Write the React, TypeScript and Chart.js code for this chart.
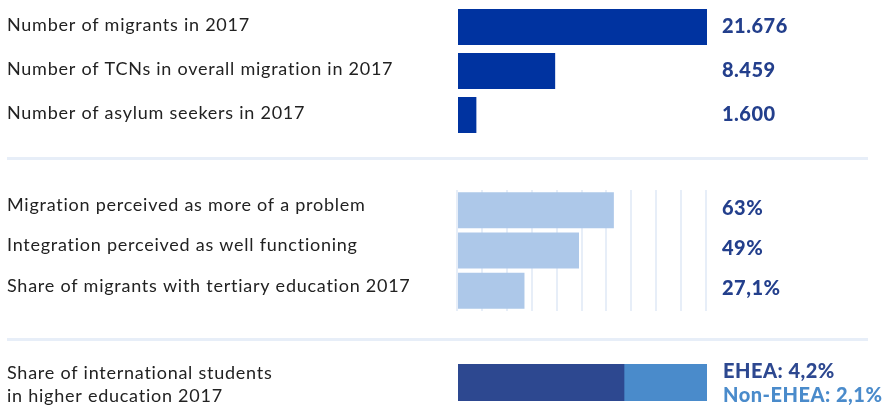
import React, { useEffect, useRef } from "react";
import { Chart, registerables } from "chart.js";

Chart.register(...registerables);

// ---------- data ----------
const migrationLabels = [
  "Number of migrants in 2017",
  "Number of TCNs in overall migration in 2017",
  "Number of asylum seekers in 2017",
];
const migrationValues = [21676, 8459, 1600];

const perceptionLabels = [
  "Migration perceived as more of a problem",
  "Integration perceived as well functioning",
  "Share of migrants with tertiary education 2017",
];
const perceptionValues = [63, 49, 27.1];
const perceptionMax = 100;
const perceptionStep = 10;

const studentLabel = ["Share of international students", "in higher education 2017"];
const studentSeries = ["EHEA", "Non-EHEA"];
const studentValues = [4.2, 2.1];

// ---------- styles ----------
const FONT = "Lato";
const LABEL_COLOR = "#222222";
const VALUE_COLOR = "#233f8c";
const SEP_COLOR = "#e7eef8";
const LABEL_SPACING = "0.75px";
const VALUE_SPACING = "0.5px";

const fmtInt = (v: number) => v.toLocaleString("de-DE");
const fmtPct = (v: number) => v.toLocaleString("de-DE", { maximumFractionDigits: 1 }) + "%";

const spacingPlugin = {
  id: "spacing",
  beforeDraw(chart: any) {
    (chart.ctx as any).letterSpacing = LABEL_SPACING;
  },
};

const valueLabelPlugin = {
  id: "valueLabels",
  afterDatasetsDraw(chart: any, _args: any, opts: any) {
    if (!opts || !opts.texts) return;
    const ctx = chart.ctx;
    ctx.save();
    (ctx as any).letterSpacing = VALUE_SPACING;
    ctx.font = `900 ${opts.size}px ${FONT}`;
    ctx.textBaseline = "middle";
    ctx.textAlign = "left";
    opts.texts.forEach((t: any) => {
      const el = chart.getDatasetMeta(t.dataset).data[t.index];
      if (!el) return;
      ctx.fillStyle = t.color;
      ctx.fillText(t.text, chart.chartArea.right + opts.gap, el.y + (t.dy || 0));
    });
    ctx.restore();
  },
};

function ChartCanvas({ config, top, height }: { config: any; top: number; height: number }) {
  const ref = useRef<HTMLCanvasElement | null>(null);
  useEffect(() => {
    if (!ref.current) return;
    const chart = new Chart(ref.current, config);
    return () => chart.destroy();
  }, []);
  return (
    <canvas
      ref={ref}
      width={884}
      height={height}
      style={{ position: "absolute", left: 0, top, width: 884, height, display: "block" }}
    />
  );
}

const tickFont = { family: FONT, size: 18 };

const fixY = (width: number) => (s: any) => {
  s.width = width;
  s.paddingTop = 0;
  s.paddingBottom = 0;
};

const migrationConfig = {
  type: "bar",
  data: {
    labels: migrationLabels,
    datasets: [
      {
        data: migrationValues,
        backgroundColor: "#0033a0",
        barPercentage: 36 / 44,
        categoryPercentage: 1,
      },
    ],
  },
  options: {
    indexAxis: "y",
    animation: false,
    responsive: false,
    layout: { padding: { left: 7, right: 177, top: 5, bottom: 5 } },
    scales: {
      x: { display: false, min: 0, max: Math.max(...migrationValues) },
      y: {
        grid: { display: false },
        border: { display: false },
        ticks: { crossAlign: "far", color: LABEL_COLOR, font: tickFont, padding: 0, labelOffset: -2 },
        afterFit: fixY(451),
      },
    },
    plugins: {
      legend: { display: false },
      tooltip: { enabled: false },
      valueLabels: {
        size: 20,
        gap: 15,
        texts: migrationValues.map((v, i) => ({ dataset: 0, index: i, text: fmtInt(v), color: VALUE_COLOR })),
      },
    },
  },
  plugins: [spacingPlugin, valueLabelPlugin],
};

const perceptionConfig = {
  type: "bar",
  data: {
    labels: perceptionLabels,
    datasets: [
      {
        data: perceptionValues,
        backgroundColor: "#adc8e9",
        barPercentage: 36 / 40.33,
        categoryPercentage: 1,
      },
    ],
  },
  options: {
    indexAxis: "y",
    animation: false,
    responsive: false,
    layout: { padding: { left: 7, right: 178, top: 10, bottom: 9 } },
    scales: {
      x: {
        display: true,
        min: 0,
        max: perceptionMax,
        ticks: { display: false, stepSize: perceptionStep },
        grid: { color: SEP_COLOR, lineWidth: 2, drawTicks: false },
        border: { display: false },
        afterFit: (s: any) => {
          s.height = 0;
        },
      },
      y: {
        grid: { display: false },
        border: { display: false },
        ticks: { crossAlign: "far", color: LABEL_COLOR, font: tickFont, padding: 0, labelOffset: -5 },
        afterFit: fixY(450),
      },
    },
    plugins: {
      legend: { display: false },
      tooltip: { enabled: false },
      valueLabels: {
        size: 20,
        gap: 16,
        texts: perceptionValues.map((v, i) => ({ dataset: 0, index: i, text: fmtPct(v), color: VALUE_COLOR, dy: -2 })),
      },
    },
  },
  plugins: [spacingPlugin, valueLabelPlugin],
};

const studentColors = ["#2d4890", "#4a8bcb"];

const studentConfig = {
  type: "bar",
  data: {
    labels: [studentLabel],
    datasets: studentSeries.map((name, i) => ({
      label: name,
      data: [studentValues[i]],
      backgroundColor: studentColors[i],
      barPercentage: 1,
      categoryPercentage: 1,
    })),
  },
  options: {
    indexAxis: "y",
    animation: false,
    responsive: false,
    layout: { padding: { left: 7, right: 177, top: 24, bottom: 4 } },
    scales: {
      x: {
        display: false,
        stacked: true,
        min: 0,
        max: studentValues.reduce((a, b) => a + b, 0),
      },
      y: {
        stacked: true,
        grid: { display: false },
        border: { display: false },
        ticks: {
          crossAlign: "far",
          color: LABEL_COLOR,
          font: { family: FONT, size: 18, lineHeight: 1.28 },
          padding: 0,
          labelOffset: 2,
        },
        afterFit: fixY(451),
      },
    },
    plugins: {
      legend: { display: false },
      tooltip: { enabled: false },
      valueLabels: {
        size: 20,
        gap: 16,
        texts: studentSeries.map((name, i) => ({
          dataset: i,
          index: 0,
          text: `${name}: ${fmtPct(studentValues[i])}`,
          color: studentColors[i],
          dy: i === 0 ? -11 : 13,
        })),
      },
    },
  },
  plugins: [spacingPlugin, valueLabelPlugin],
};

export default function App() {
  return (
    <div
      style={{
        position: "fixed",
        left: 0,
        top: 0,
        width: 884,
        height: 405,
        background: "#ffffff",
        overflow: "hidden",
      }}
    >
      <ChartCanvas config={migrationConfig} top={0} height={142} />
      <div style={{ position: "absolute", left: 7, top: 157, width: 861, height: 3, background: SEP_COLOR }} />
      <ChartCanvas config={perceptionConfig} top={180} height={140} />
      <div style={{ position: "absolute", left: 7, top: 338, width: 861, height: 3, background: SEP_COLOR }} />
      <ChartCanvas config={studentConfig} top={340} height={65} />
    </div>
  );
}
